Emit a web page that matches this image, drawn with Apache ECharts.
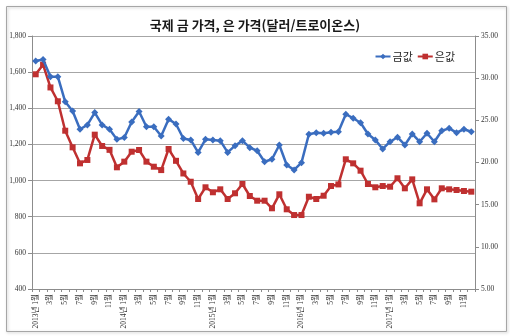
<!DOCTYPE html>
<html>
<head>
<meta charset="utf-8">
<script src="https://cdn.jsdelivr.net/npm/echarts@6/dist/echarts.min.js"></script>
<style>
  html, body { margin: 0; padding: 0; background: #fff; }
  #chart { width: 510px; height: 336px; }
</style>
</head>
<body>
<div id="chart"></div>
<script>
// Monthly prices, Jan 2013 – Dec 2017
const years = [2013, 2014, 2015, 2016, 2017];
const months = [1, 2, 3, 4, 5, 6, 7, 8, 9, 10, 11, 12];

// Gold, USD per troy ounce (left axis)
const goldPrices = [
  1662, 1670, 1575, 1575, 1436, 1385, 1284, 1308, 1376, 1308, 1284, 1228,
  1238, 1324, 1382, 1298, 1298, 1247, 1340, 1313, 1233, 1225, 1156, 1228,
  1225, 1221, 1156, 1193, 1221, 1182, 1165, 1104, 1118, 1197, 1086, 1059,
  1099, 1256, 1265, 1262, 1267, 1270, 1367, 1345, 1320, 1258, 1225, 1175,
  1215, 1240, 1197, 1258, 1215, 1262, 1215, 1276, 1289, 1265, 1284, 1270
];

// Silver, USD per troy ounce (right axis)
const silverPrices = [
  30.46, 31.6, 28.9, 27.26, 23.77, 21.8, 19.9, 20.3, 23.3, 21.96, 21.5, 19.43,
  20.1, 21.28, 21.48, 20.1, 19.5, 19.1, 21.6, 20.2, 18.7, 17.72, 15.67, 17.06,
  16.47, 16.82, 15.67, 16.35, 17.45, 16.03, 15.47, 15.47, 14.57, 16.23, 14.45, 13.77,
  13.77, 15.94, 15.67, 16.06, 17.21, 17.4, 20.38, 19.9, 19.03, 17.45, 17.06, 17.21,
  17.13, 18.13, 16.94, 18.0, 15.16, 16.82, 15.63, 16.94, 16.82, 16.74, 16.62, 16.54
];

const seriesNames = ['금값', '은값'];
const titleText = '국제 금 가격, 은 가격(달러/트로이온스)';

// Axis ranges
const goldAxis = { min: 400, max: 1800, step: 200 };
const silverAxis = { min: 5, max: 35, step: 5 };

const categories = years.flatMap(y => months.map(m => m === 1 ? y + '년 1월' : m + '월'));

const serif = '"Liberation Serif", "Noto Sans CJK KR", serif';
const sans = '"Noto Sans CJK KR", sans-serif';

const chart = echarts.init(document.getElementById('chart'), null, { renderer: 'canvas' });

chart.setOption({
  animation: false,
  backgroundColor: '#ffffff',
  graphic: [{
    type: 'rect',
    left: 4, top: 4,
    shape: { width: 500, height: 325 },
    style: { fill: 'none', stroke: '#a6a6a6', lineWidth: 1, shadowBlur: 3, shadowColor: 'rgba(0,0,0,0.25)', shadowOffsetX: 1, shadowOffsetY: 1 },
    z: -1
  }],
  title: {
    text: titleText,
    left: 'center',
    top: 14,
    textStyle: { fontFamily: sans, fontSize: 13, fontWeight: 'bold', color: '#1a1a1a' }
  },
  legend: {
    data: seriesNames,
    right: 50,
    top: 46,
    itemWidth: 15,
    itemHeight: 7,
    itemGap: 4,
    textStyle: { fontFamily: sans, fontSize: 11, color: '#222', padding: [0, 0, 0, -3] }
  },
  grid: { left: 32, right: 35, top: 36, bottom: 47, containLabel: false },
  xAxis: {
    type: 'category',
    data: categories,
    boundaryGap: true,
    axisLine: { lineStyle: { color: '#8c8c8c', width: 1 } },
    axisTick: { show: true, interval: 0, length: 3, lineStyle: { color: '#8c8c8c' } },
    axisLabel: {
      interval: 1,
      rotate: 90,
      margin: 5,
      fontFamily: serif,
      fontSize: 7.5,
      color: '#333'
    },
    splitLine: { show: false }
  },
  yAxis: [{
    type: 'value',
    min: goldAxis.min,
    max: goldAxis.max,
    interval: goldAxis.step,
    axisLine: { show: true, lineStyle: { color: '#8c8c8c' } },
    axisTick: { show: true, length: 4, lineStyle: { color: '#8c8c8c' } },
    axisLabel: {
      margin: 6,
      fontFamily: serif,
      fontSize: 7.5,
      color: '#333',
      formatter: v => v.toLocaleString('en-US')
    },
    splitLine: { show: true, lineStyle: { color: '#a6a6a6', width: 1 } }
  }, {
    type: 'value',
    min: silverAxis.min,
    max: silverAxis.max,
    interval: silverAxis.step,
    position: 'right',
    axisLine: { show: true, lineStyle: { color: '#8c8c8c' } },
    axisTick: { show: true, length: 4, lineStyle: { color: '#8c8c8c' } },
    axisLabel: {
      margin: 6,
      fontFamily: serif,
      fontSize: 7.5,
      color: '#333',
      formatter: v => v.toFixed(2)
    },
    splitLine: { show: false }
  }],
  series: [{
    name: seriesNames[0],
    type: 'line',
    yAxisIndex: 0,
    data: goldPrices,
    symbol: 'diamond',
    symbolSize: 7,
    showAllSymbol: true,
    lineStyle: { color: '#3a6dbf', width: 2.5 },
    itemStyle: { color: '#3a6dbf', borderWidth: 0 },
    z: 3
  }, {
    name: seriesNames[1],
    type: 'line',
    yAxisIndex: 1,
    data: silverPrices,
    symbol: 'rect',
    symbolSize: 6,
    showAllSymbol: true,
    lineStyle: { color: '#bf3030', width: 2.5 },
    itemStyle: { color: '#bf3030', borderWidth: 0 },
    z: 2
  }]
});
</script>
</body>
</html>
